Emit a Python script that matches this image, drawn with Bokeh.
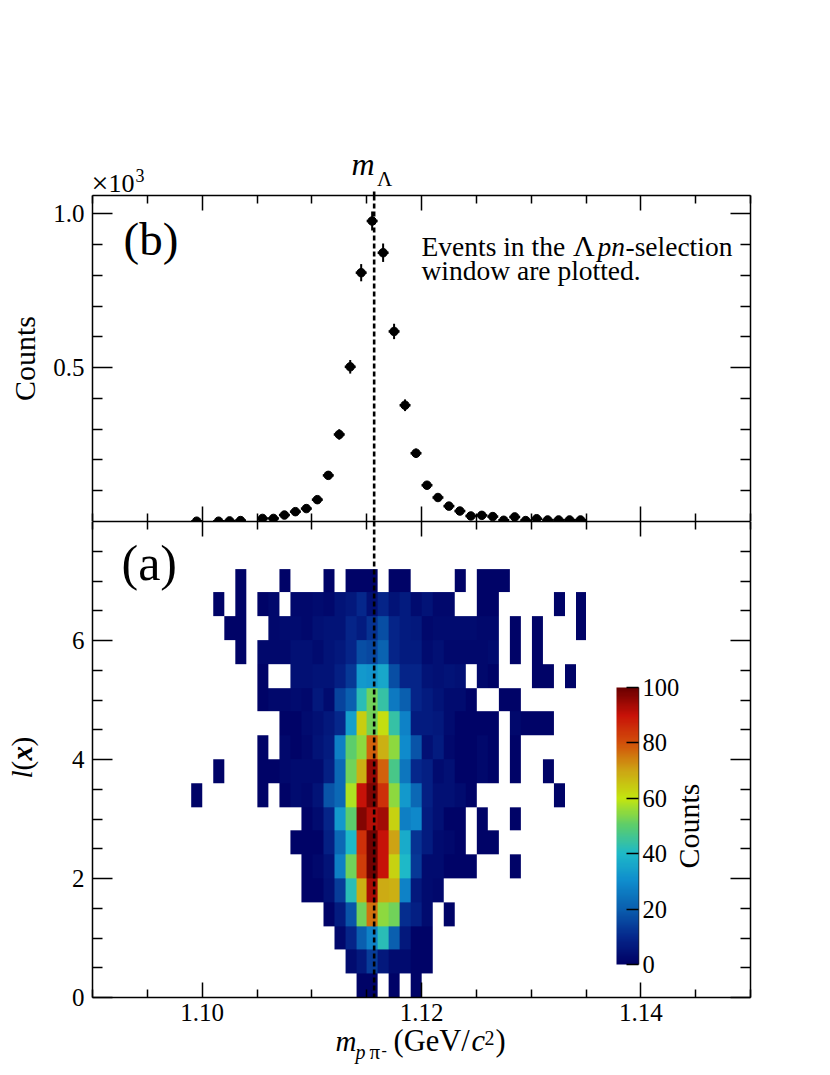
from math import pi
import numpy as np
from bokeh.core.properties import value
from bokeh.embed import file_html
from bokeh.resources import INLINE
from bokeh.plotting import figure
from bokeh.layouts import column
from bokeh.models import (ColumnDataSource, LinearAxis, FixedTicker, NumeralTickFormatter, Span,
                          LinearColorMapper, ColorBar, GridBox)

# ---------- data ----------
bin_width = 0.001
first_edge = 1.09
m_lambda = 1.115683

# panel (b): counts per bin
b_bins = [9, 11, 12, 13, 15, 16, 17, 18, 19, 20, 21, 22, 23, 24, 25, 26, 27, 28, 29, 30,
          31, 32, 33, 34, 35, 36, 37, 38, 39, 40, 41, 42, 43, 44]
b_counts = [1, 1, 2, 3, 10, 10, 21, 32, 42, 71, 150, 283, 503, 809, 977, 874, 618, 378, 222, 118,
            78, 50, 34, 18, 20, 16, 4, 15, 3, 9, 5, 5, 5, 5]
b_errors = [1, 1, 1.4, 1.7, 3.2, 3.2, 4.6, 5.7, 6.5, 8.4, 12, 17, 22, 28, 31, 30, 25, 19, 15, 11,
            9, 7, 6, 4, 4.5, 4, 2, 4, 1.7, 3, 2.2, 2.2, 2.2, 2.2]

# panel (a): counts in each row; columns are bins 9..44
row_bins = list(range(9, 45))
row_height = 0.4
row_00 = [0, 0,0,0,0,0,0,0,0,0,0, 0,0,0,0,1,1,0,1,0,1, 0,0,0,0,0,0,0,0,0,0, 0,0,0,0,0]
row_01 = [0, 0,0,0,0,0,0,0,0,0,0, 0,0,0,3,6,14,6,3,3,1, 1,0,0,0,0,0,0,0,0,0, 0,0,0,0,0]
row_02 = [0, 0,0,0,0,0,0,0,0,0,0, 0,0,2,9,20,28,42,20,6,1, 1,0,0,0,0,0,0,0,0,0, 0,0,0,0,0]
row_03 = [0, 0,0,0,0,0,0,0,0,0,0, 0,1,7,18,52,76,55,52,11,8, 3,0,1,0,0,0,0,0,0,0, 0,0,0,0,0]
row_04 = [0, 0,0,0,0,0,0,0,0,0,1, 1,4,14,42,68,93,69,68,28,6, 3,2,0,0,0,0,0,0,0,0, 0,0,0,0,0]
row_05 = [0, 0,0,0,0,0,0,0,0,0,1, 2,5,27,52,83,99,90,63,40,13, 3,3,1,1,1,0,0,0,1,0, 0,0,0,0,0]
row_06 = [0, 0,0,0,0,0,0,0,0,1,1, 1,8,22,40,85,99,90,70,37,12, 7,3,2,1,0,1,1,0,0,0, 0,0,0,0,0]
row_07 = [0, 0,0,0,0,0,0,0,0,0,1, 3,9,33,50,97,92,94,63,27,29, 7,4,1,1,0,1,0,0,1,0, 0,0,0,0,0]
row_08 = [1, 0,0,0,0,0,1,0,1,3,2, 5,18,22,58,90,98,85,55,33,22, 8,4,4,3,1,0,0,0,0,0, 0,0,1,0,0]
row_09 = [0, 0,1,0,0,0,1,1,2,3,3, 3,8,22,52,68,95,78,47,25,10, 8,3,4,1,1,2,1,0,1,0, 0,1,0,0,0]
row_10 = [0, 0,0,0,0,0,1,0,2,1,2, 5,7,27,50,55,78,68,55,30,18, 4,7,2,1,1,2,1,0,1,0, 0,0,0,0,0]
row_11 = [0, 0,0,0,0,0,0,0,1,1,3, 4,6,10,34,64,52,61,44,28,7, 7,6,3,1,1,1,1,0,2,1, 1,1,0,0,0]
row_12 = [0, 0,0,0,0,0,1,2,2,3,2, 6,3,15,20,42,52,44,26,20,9, 7,5,3,3,1,0,0,1,1,0, 0,0,0,0,0]
row_13 = [0, 0,0,0,0,0,1,0,0,4,4, 5,5,8,13,33,32,36,17,9,9, 5,4,5,4,0,2,1,0,0,0, 1,1,0,1,0]
row_14 = [0, 0,0,0,1,0,2,2,2,4,4, 3,5,6,9,17,16,21,9,7,7, 3,4,2,2,2,2,3,0,1,0, 1,0,0,0,0]
row_15 = [0, 0,0,1,1,0,0,2,3,3,2, 4,5,5,9,7,12,17,9,7,6, 2,3,3,3,3,2,2,0,1,0, 1,0,0,0,1]
row_16 = [0, 0,1,0,1,0,1,2,0,2,2, 3,2,5,6,10,4,9,5,7,3, 5,2,2,0,0,1,1,0,0,0, 0,0,1,0,1]
row_17 = [0, 0,0,0,1,0,0,0,1,0,0, 0,1,0,1,1,1,0,1,1,0, 0,0,0,1,0,1,1,1,0,0, 0,0,0,0,0]
rows = [row_00, row_01, row_02, row_03, row_04, row_05, row_06, row_07, row_08,
        row_09, row_10, row_11, row_12, row_13, row_14, row_15, row_16, row_17]

x_major = [1.10, 1.12, 1.14]
x_minor = [1.09, 1.095, 1.105, 1.11, 1.115, 1.125, 1.13, 1.135, 1.145, 1.15]
yb_major = [500, 1000]
yb_minor = [100, 200, 300, 400, 600, 700, 800, 900]
ya_major = [0, 2, 4, 6]
ya_minor = [0.5, 1, 1.5, 2.5, 3, 3.5, 4.5, 5, 5.5, 6.5, 7, 7.5]
bar_ticks = [0, 20, 40, 60, 80, 100]

# ---------- style / layout ----------
FONT = "Liberation Serif"
TICK = "25px"
LEFT, RIGHT, TOP, MID, BOTTOM = 92, 750, 195, 521, 997
PAGE_W, PAGE_H = 822, 1070
XR = (1.09, 1.15)
YB = (0, 1060)
YA = (0, 8)

stops = [(0, (0, 0, 100)), (10, (5, 40, 140)), (20, (10, 95, 175)), (30, (15, 140, 205)),
         (40, (30, 185, 200)), (50, (90, 205, 110)), (60, (195, 230, 15)), (70, (205, 165, 20)),
         (80, (210, 80, 10)), (90, (200, 18, 8)), (100, (105, 0, 0))]
palette = []
for k in range(256):
    v = k / 255 * 100
    for (v0, c0), (v1, c1) in zip(stops, stops[1:]):
        if v <= v1:
            t = (v - v0) / (v1 - v0)
            palette.append("#%02x%02x%02x" % tuple(round(a + (b - a) * t) for a, b in zip(c0, c1)))
            break
mapper = LinearColorMapper(palette=palette, low=0, high=100, nan_color="#00000000")


def style_axes(p, x_labels, x_tick_len, ymajor, yminor):
    below = p.xaxis[0]
    left = p.yaxis[0]
    above = LinearAxis(); right = LinearAxis()
    p.add_layout(above, "above"); p.add_layout(right, "right")
    for ax in (below, above):
        ax.ticker = FixedTicker(ticks=x_major, minor_ticks=x_minor)
    for ax in (left, right):
        ax.ticker = FixedTicker(ticks=ymajor, minor_ticks=yminor)
    for ax in (below, above, left, right):
        ax.axis_line_color = "black"; ax.axis_line_width = 1.5
        ax.major_tick_line_color = "black"; ax.major_tick_line_width = 1.5
        ax.minor_tick_line_color = "black"; ax.minor_tick_line_width = 1.5
        ax.major_tick_out = 0; ax.minor_tick_out = 0
        ax.major_label_text_font = FONT; ax.major_label_text_font_size = TICK
        ax.major_label_text_color = "black"
    for ax in (below, above):
        ax.major_tick_in = x_tick_len; ax.minor_tick_in = 8
    for ax in (left, right):
        ax.major_tick_in = 20; ax.minor_tick_in = 10
    hidden = [above, right] + ([] if x_labels else [below])
    for ax in hidden:
        ax.major_label_text_color = None
        ax.major_label_text_font_size = "1px"
        ax.major_label_standoff = 0
    if x_labels:
        below.major_label_standoff = 6
        below.formatter = NumeralTickFormatter(format="0.00")
    left.major_label_standoff = 8
    p.xgrid.visible = False; p.ygrid.visible = False
    p.outline_line_color = None


# ---------- panel (b) ----------
pb = figure(output_backend="svg", toolbar_location=None, x_range=XR, y_range=YB,
            frame_width=RIGHT - LEFT, frame_height=MID - TOP,
            min_border_left=LEFT, min_border_right=PAGE_W - RIGHT,
            min_border_top=TOP, min_border_bottom=0)
style_axes(pb, False, 15, yb_major, yb_minor)
pb.yaxis[0].major_label_overrides = {500: "0.5", 1000: "1.0"}
pb.yaxis[0].axis_label = "Counts"
pb.yaxis[0].axis_label_text_font = FONT
pb.yaxis[0].axis_label_text_font_size = "30px"
pb.yaxis[0].axis_label_text_font_style = "normal"
pb.yaxis[0].axis_label_text_color = "black"
pb.yaxis[0].axis_label_standoff = 9

xc = [first_edge + (i + 0.5) * bin_width for i in b_bins]
src_b = ColumnDataSource(dict(
    x=xc, y=b_counts,
    x0=[x - bin_width / 2 for x in xc], x1=[x + bin_width / 2 for x in xc],
    y0=[c - e for c, e in zip(b_counts, b_errors)], y1=[c + e for c, e in zip(b_counts, b_errors)]))
pb.add_layout(Span(location=m_lambda, dimension="height", line_color="black", line_width=2.6, line_dash="5 3"))
pb.segment("x", "y0", "x", "y1", source=src_b, line_color="black", line_width=2)
pb.segment("x0", "y", "x1", "y", source=src_b, line_color="black", line_width=2.5)
pb.scatter("x", "y", source=src_b, marker="circle", size=8.5, fill_color="black", line_color="black")

# ---------- panel (a) ----------
pa = figure(output_backend="svg", toolbar_location=None, x_range=XR, y_range=YA,
            frame_width=RIGHT - LEFT, frame_height=BOTTOM - MID,
            min_border_left=LEFT, min_border_right=PAGE_W - RIGHT,
            min_border_top=0, min_border_bottom=PAGE_H - BOTTOM)
style_axes(pa, True, 15, ya_major, ya_minor)

grid = np.array(rows, dtype=float)
grid[grid == 0] = np.nan
pa.image(image=[grid], x=first_edge + row_bins[0] * bin_width, y=0,
         dw=len(row_bins) * bin_width, dh=len(rows) * row_height, color_mapper=mapper)
pa.add_layout(Span(location=m_lambda, dimension="height", line_color="black", line_width=2.6, line_dash="5 3"))

bar = ColorBar(color_mapper=mapper, ticker=FixedTicker(ticks=bar_ticks), location=(616 - LEFT, BOTTOM - 964),
               width=22, height=277, padding=0, margin=0,
               major_tick_in=12, major_tick_out=0, major_tick_line_color="black", major_tick_line_width=1.5,
               minor_tick_line_color=None, label_standoff=4, bar_line_color=None,
               major_label_text_font=FONT, major_label_text_font_size="24.5px", major_label_text_color="black",
               background_fill_color=None, border_line_color=None)
pa.add_layout(bar)
# dark right edge of the colour bar
bar_x = XR[0] + (638 - LEFT) / (RIGHT - LEFT) * (XR[1] - XR[0])
bar_y0, bar_y1 = (BOTTOM - 964) / (BOTTOM - MID) * YA[1], (BOTTOM - 687) / (BOTTOM - MID) * YA[1]
pa.line([bar_x, bar_x], [bar_y0, bar_y1], line_color="#222222", line_width=1.5)

# ---------- transparent text layer over the whole page (units are page pixels) ----------
ov = figure(output_backend="svg", toolbar_location=None, x_range=(0, PAGE_W), y_range=(PAGE_H, 0),
            frame_width=PAGE_W, frame_height=PAGE_H, min_border=0, x_axis_location=None, y_axis_location=None,
            background_fill_color=None, border_fill_color=None, outline_line_color=None)
ov.grid.visible = False


def put(px, py, text, size, style="normal", angle=0):
    """px, py: page position of the start of the text's baseline."""
    shift = 0.32 * size
    x, y = (px - shift, py) if angle else (px, py - shift)
    ov.text([x], [y], text=[text], text_font=value(FONT), text_font_size=f"{size}px",
            text_font_style=style, text_baseline="alphabetic", text_align="left",
            angle=angle, text_color="black")


# tip of the dashed line above the frame
tip_x = LEFT + (m_lambda - XR[0]) / (XR[1] - XR[0]) * (RIGHT - LEFT)
ov.line([tip_x, tip_x], [191, 195], line_color="black", line_width=2.6)

put(91, 192, "×", 30)
put(108, 191.7, "10", 26)
put(135, 180.7, "3", 18)
put(351, 174, "m", 32, style="italic")
put(376.5, 185, "Λ", 21)
put(123, 254, "(b)", 47)
put(421, 255, "Events in the", 27.5)
put(572.5, 255, "Λ", 30)
put(597, 255, "pn", 27.5, style="italic")
put(625, 255, "-selection", 27.5)
put(421, 279, "window are plotted.", 27.5)
put(121, 578, "(a)", 50)
put(698, 868, "Counts", 30, angle=pi / 2)
put(31, 778, "l", 29, style="italic", angle=pi / 2)
put(31, 770, "(", 29, angle=pi / 2)
put(31, 760, "x", 29, style="bold italic", angle=pi / 2)
put(31, 746, ")", 29, angle=pi / 2)
put(335, 1050, "m", 29, style="italic")
put(355, 1058, "p", 20, style="italic")
put(369, 1058, "π", 21)
put(381, 1055, "-", 16)
put(393, 1050, "(GeV/", 30.5)
put(471, 1050, "c", 30.5, style="italic")
put(484, 1044, "2", 20)
put(495, 1050, ")", 30.5)

page = GridBox(children=[(column(pb, pa, spacing=0), 0, 0), (column(ov), 0, 0)], spacing=0)
open("out.html", "w").write(file_html(page, INLINE))
